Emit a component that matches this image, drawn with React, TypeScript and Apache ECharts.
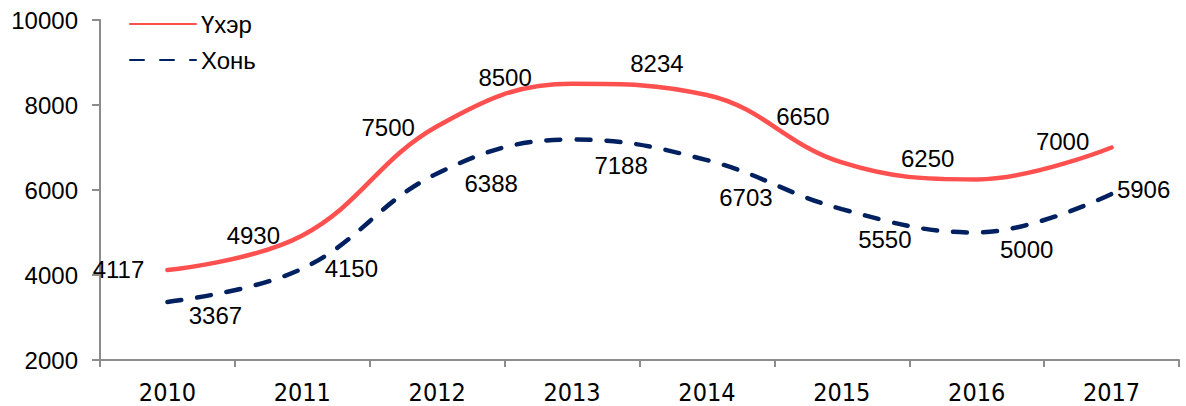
import React, { useEffect, useRef } from "react";
import * as echarts from "echarts";

const years = ["2010", "2011", "2012", "2013", "2014", "2015", "2016", "2017"];
const uherValues = [4117, 4930, 7500, 8500, 8234, 6650, 6250, 7000];
const honValues = [3367, 4150, 6388, 7188, 6703, 5550, 5000, 5906];
const yTicks = [2000, 4000, 6000, 8000, 10000];
const uherLabelOffsets = [[-49, -1], [-49, 0], [-49, 1], [-67, -6], [-50, -32], [-39, -46], [-49, -21], [-49, -6]];
const honLabelOffsets = [[48, 14], [49, 0], [54, 10], [49, 26], [39, 37], [43, 30], [50, 17], [32, -4]];

const FONT = "Arial, 'Liberation Sans', sans-serif";

export default function App() {
  const ref = useRef<HTMLDivElement>(null);
  useEffect(() => {
    if (!ref.current) return;
    const chart = echarts.init(ref.current, null, { renderer: "svg" });
    const mkData = (vals: number[], offs: number[][]) =>
      vals.map((v, i) => ({
        value: v,
        label: { offset: offs[i] },
      }));
    const labelStyle = {
      show: true,
      position: "inside",
      fontFamily: FONT,
      fontSize: 24,
      color: "#000",
      opacity: 1,
      formatter: (p: any) => String(p.value),
    };
    chart.setOption({
      animation: false,
      backgroundColor: "#ffffff",
      grid: { left: 100, right: 7, top: 20, bottom: 46, containLabel: false },
      legend: {
        orient: "vertical",
        left: 124,
        top: 7,
        itemWidth: 66,
        itemHeight: 14,
        itemGap: 12,
        itemStyle: { opacity: 0 },
        textStyle: { fontFamily: FONT, fontSize: 24, color: "#000" },
        data: ["Үхэр", "Хонь"],
      },
      xAxis: {
        type: "category",
        data: years,
        boundaryGap: true,
        axisLine: { lineStyle: { color: "#8c8c8c", width: 2 } },
        axisTick: { show: true, length: 7, lineStyle: { color: "#8c8c8c", width: 2 } },
        axisLabel: {
          fontFamily: "'DejaVu Sans Condensed', 'DejaVu Sans', sans-serif",
          fontSize: 25,
          color: "#000",
          margin: 20,
        },
        splitLine: { show: false },
      },
      yAxis: {
        type: "value",
        min: yTicks[0],
        max: yTicks[yTicks.length - 1],
        interval: yTicks[1] - yTicks[0],
        axisLine: { show: true, lineStyle: { color: "#8c8c8c", width: 2 } },
        axisTick: { show: true, length: 8, lineStyle: { color: "#8c8c8c", width: 2 } },
        axisLabel: {
          fontFamily: FONT,
          fontSize: 24,
          color: "#000",
          margin: 22,
          formatter: (v: number) => String(v),
        },
        splitLine: { show: false },
      },
      series: [
        {
          name: "Үхэр",
          type: "line",
          smooth: 0.4,
          symbol: "circle",
          symbolSize: 2,
          showSymbol: true,
          data: mkData(uherValues, uherLabelOffsets),
          lineStyle: { color: "#FF5050", width: 4.5, cap: "round" },
          itemStyle: { color: "#FF5050", opacity: 0 },
          label: labelStyle,
        },
        {
          name: "Хонь",
          type: "line",
          smooth: 0.4,
          symbol: "circle",
          symbolSize: 2,
          showSymbol: true,
          data: mkData(honValues, honLabelOffsets),
          lineStyle: { color: "#002060", width: 4.5, type: [14, 16], cap: "round" },
          itemStyle: { color: "#002060", opacity: 0 },
          label: labelStyle,
        },
      ],
    });
    return () => chart.dispose();
  }, []);
  return (
    <div
      ref={ref}
      style={{ position: "fixed", left: 0, top: 0, width: 1186, height: 406 }}
    />
  );
}
